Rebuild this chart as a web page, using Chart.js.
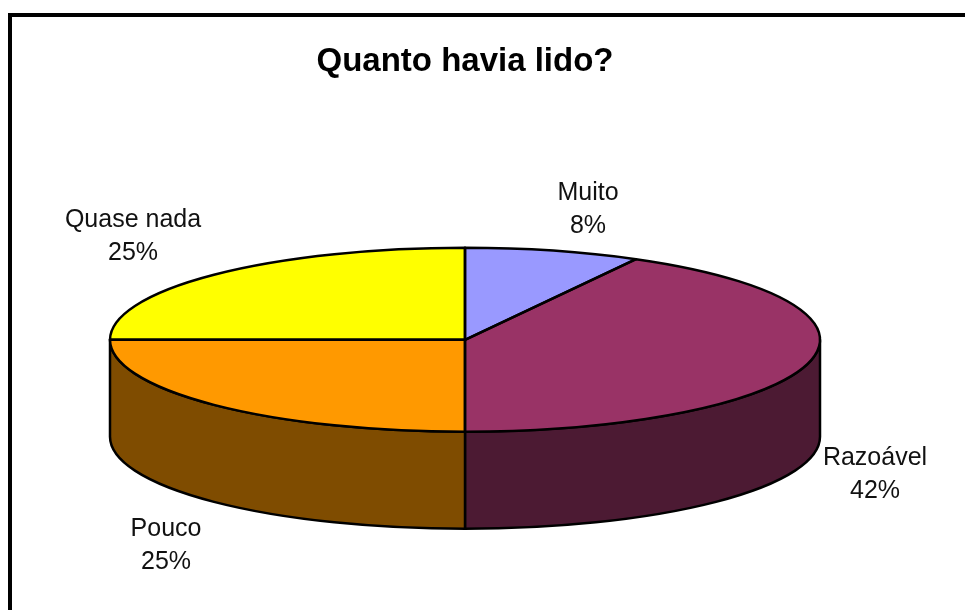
<!DOCTYPE html>
<html>
<head>
<meta charset="utf-8">
<title>Quanto havia lido?</title>
<script src="https://cdn.jsdelivr.net/npm/chart.js@4"></script>
<style>
  html, body { margin: 0; padding: 0; background: #fff; }
  canvas { display: block; }
</style>
</head>
<body>
<canvas id="pie" width="965" height="610"></canvas>
<script>
const titleText = "Quanto havia lido?";
const categories = ["Muito", "Razoável", "Pouco", "Quase nada"];
const percents = [8, 42, 25, 25];

const topColors = ["#9999ff", "#993366", "#ff9900", "#ffff00"];
const sideColors = ["#4c4c7f", "#4c1a33", "#7f4c00", "#7f7f00"];

// where each two-line label is centred, in slice order
const labelSpots = [
  { x: 588, y: 193 },
  { x: 875, y: 458 },
  { x: 166, y: 529 },
  { x: 133, y: 220 },
];

const TILT = 92 / 355;
const DEPTH = 97;

// flattens the library's arcs into an ellipse and builds the wall under them
const tiltedPie = {
  id: "tiltedPie",
  beforeDraw(chart) {
    const ctx = chart.ctx;
    ctx.save();
    ctx.fillStyle = "#000";
    ctx.fillRect(8, 13, 957, 4);
    ctx.fillRect(8, 13, 4, 597);
    ctx.restore();
  },
  beforeDatasetsDraw(chart) {
    const ctx = chart.ctx;
    const arcs = chart.getDatasetMeta(0).data;

    ctx.save();
    ctx.strokeStyle = "#000";
    ctx.lineWidth = 2.5;
    ctx.lineJoin = "round";
    arcs.forEach((arc, i) => {
      // only the part facing the viewer, angles 0 to PI
      const from = Math.max(arc.startAngle, 0);
      const to = Math.min(arc.endAngle, Math.PI);
      if (to <= from) {
        return;
      }
      const ry = arc.outerRadius * TILT;
      ctx.fillStyle = sideColors[i];
      ctx.beginPath();
      ctx.ellipse(arc.x, arc.y, arc.outerRadius, ry, 0, from, to);
      ctx.ellipse(arc.x, arc.y + DEPTH, arc.outerRadius, ry, 0, to, from, true);
      ctx.closePath();
      ctx.fill();
      ctx.stroke();
    });
    ctx.restore();

    const { x, y } = arcs[0];
    ctx.save();
    ctx.translate(x, y);
    ctx.scale(1, TILT);
    ctx.translate(-x, -y);
  },
  afterDatasetsDraw(chart) {
    const ctx = chart.ctx;
    ctx.restore();

    const arcs = chart.getDatasetMeta(0).data;
    ctx.save();
    ctx.strokeStyle = "#000";
    ctx.lineWidth = 2.5;
    ctx.lineJoin = "round";
    arcs.forEach((arc) => {
      ctx.beginPath();
      ctx.moveTo(arc.x, arc.y);
      ctx.ellipse(arc.x, arc.y, arc.outerRadius, arc.outerRadius * TILT, 0, arc.startAngle, arc.endAngle);
      ctx.closePath();
      ctx.stroke();
    });

    ctx.fillStyle = "#111";
    ctx.font = '25px "Liberation Sans", Arial, sans-serif';
    ctx.textAlign = "center";
    ctx.textBaseline = "middle";
    categories.forEach((name, i) => {
      const spot = labelSpots[i];
      ctx.fillText(name, spot.x, spot.y);
      ctx.fillText(`${percents[i]}%`, spot.x, spot.y + 33);
    });
    ctx.restore();
  },
};

new Chart(document.getElementById("pie"), {
  type: "pie",
  data: {
    labels: categories,
    datasets: [
      {
        data: percents,
        backgroundColor: topColors,
        borderWidth: 0,
        clip: false,
      },
    ],
  },
  options: {
    responsive: false,
    animation: false,
    events: [],
    radius: 355,
    layout: { padding: { top: 42, right: 35, bottom: 12, left: 0 } },
    plugins: {
      legend: { display: false },
      tooltip: { enabled: false },
      title: {
        display: true,
        text: titleText,
        color: "#000",
        font: { family: '"Liberation Sans", Arial, sans-serif', size: 33, weight: "bold" },
        padding: 0,
      },
    },
  },
  plugins: [tiltedPie],
});
</script>
</body>
</html>
